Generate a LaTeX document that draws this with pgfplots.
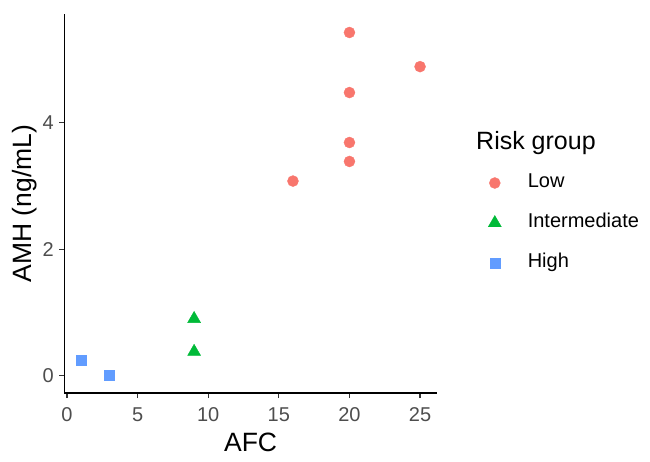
\documentclass[border=0pt]{standalone}
\usepackage{fontspec}
\setmainfont{Liberation Sans}
\usepackage{pgfplots}
\pgfplotsset{compat=1.18}
\definecolor{lowc}{HTML}{F8766D}
\definecolor{intc}{HTML}{00BA38}
\definecolor{highc}{HTML}{619CFF}
\definecolor{grey30}{HTML}{4D4D4D}
\definecolor{grey20}{HTML}{333333}
\begin{document}
\begin{tikzpicture}
\path[use as bounding box] (0,0) rectangle (650pt,461pt);
\begin{axis}[
 at={(64.2pt,68pt)}, anchor=south west,
 scale only axis, width=372.8pt, height=379pt,
 xmin=-0.2, xmax=26.2, ymin=-0.2725, ymax=5.7225,
 clip=false,
 axis x line*=bottom, axis y line*=left,
 axis line style={line width=1.4pt, black, -},
 xtick={0,5,10,15,20,25}, ytick={0,2,4},
 tick style={grey20, line width=1.2pt},
 tick align=outside, major tick length=5pt,
 ticklabel style={font=\fontsize{20}{24}\selectfont, text=grey30},
 xticklabel style={yshift=-6pt},
 yticklabel style={xshift=-2pt},
 /pgf/number format/assume math mode=true,
 xlabel={AFC}, ylabel={AMH (ng/mL)},
 label style={font=\fontsize{26.5}{30}\selectfont},
 xlabel style={at={(axis description cs:0.5,-0.1293)}, anchor=center},
 ylabel style={at={(axis description cs:-0.106,0.5)}, anchor=center},
 legend cell align=left,
 legend style={draw=none, fill=none, at={(axis description cs:1.125,0.581)}, anchor=north west,
   font=\fontsize{20}{24}\selectfont, row sep=24pt,
   nodes={inner sep=0pt, text height=12pt, text depth=4pt}},
 legend image code/.code={\path[draw=none] (-8pt,0pt) -- (33pt,0pt);\draw[#1] plot coordinates {(0pt,0pt)};},
]
\addplot[only marks, mark=*, mark size=5.5pt, color=lowc] coordinates {
 (20,5.43) (25,4.89) (20,4.48) (20,3.69) (20,3.39) (16,3.08)};
\addlegendentry{Low}
\addplot[only marks, mark=triangle*, mark size=7.5pt, color=intc] coordinates {
 (9,0.90) (9,0.38)};
\addlegendentry{Intermediate}
\addplot[only marks, mark=square*, mark size=5pt, color=highc] coordinates {
 (1,0.24) (3,0.01)};
\addlegendentry{High}
\node[font=\fontsize{25}{30}\selectfont, anchor=west, inner sep=0pt] at (axis description cs:1.1046,0.6596) {Risk group};
\end{axis}
\end{tikzpicture}
\end{document}
